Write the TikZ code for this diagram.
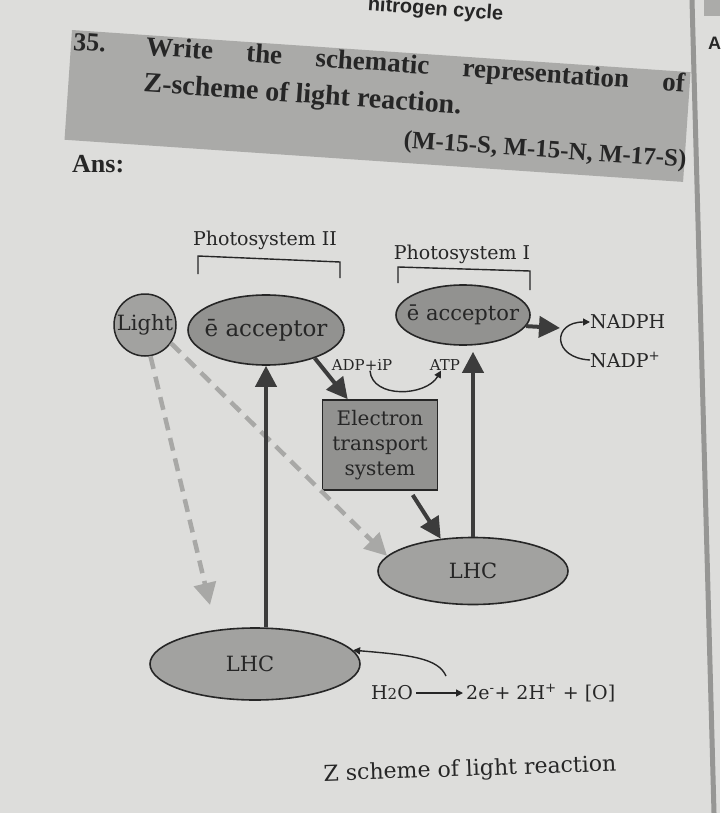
\documentclass[tikz,border=0pt]{standalone}
\usepackage{fontspec}
\setmainfont{DejaVu Serif}
\newfontfamily\bookfont{Liberation Serif}
\newfontfamily\headfont{Liberation Sans}
\usetikzlibrary{arrows.meta,shapes.geometric}

\definecolor{paper}{RGB}{221,221,219}
\definecolor{ink}{RGB}{38,38,38}
\definecolor{boxgray}{RGB}{170,170,168}
\definecolor{blobgray}{RGB}{146,146,144}
\definecolor{lhcgray}{RGB}{162,162,160}
\definecolor{dashgray}{RGB}{168,168,166}
\definecolor{rulegray}{RGB}{150,150,148}

\newcommand{\fs}[1]{\fontsize{#1}{#1}\selectfont}

\begin{document}
\begin{tikzpicture}[x=1pt,y=-1pt,
    every node/.style={text=ink,inner sep=0pt},
    blob/.style={ellipse,draw=ink,line width=1.6pt,fill=blobgray},
    bigarrow/.style={draw=ink!90,line width=4pt,-{Triangle[length=21pt,width=21pt]}},
    lightarrow/.style={draw=dashgray,line width=4.5pt,dash pattern=on 13pt off 8pt,
        -{Triangle[length=22pt,width=22pt]}},
    thinarrow/.style={draw=ink,line width=1.4pt,-{Triangle[length=7pt,width=7pt]}}]
    \useasboundingbox (0,0) rectangle (720,813);
    \clip (0,0) rectangle (720,813);
    \fill[paper] (0,0) rectangle (720,813);

    % page around the answer
    \node[anchor=base east,rotate=-4,font=\headfont\bfseries\fs{20}] (chapter) at (503,20) {nitrogen cycle};
    \fill[rulegray!80] (704,0) rectangle (720,16);
    \draw[rulegray,line width=5pt] (692,0) -- (714,813);
    \node[anchor=base west,font=\headfont\bfseries\fs{18}] (nextcol) at (708,50) {A};

    % question
    \begin{scope}[shift={(72,30)},rotate=-3.9,transform shape]
        \fill[boxgray] (0,0) rectangle (620,110);
        \node[anchor=base west,font=\bookfont\bfseries\fs{26}] (qnum) at (2,20) {35.};
        \node[anchor=base west,font=\bookfont\bfseries\fs{27}] (qline) at (75,20)
            {\makebox[540pt][s]{Write the schematic representation of}};
        \node[anchor=base west,font=\bookfont\bfseries\fs{28}] (qlinetwo) at (75,57)
            {Z-scheme of light reaction.};
        \node[anchor=base east,font=\bookfont\bfseries\fs{25}] (qref) at (622,95)
            {(M-15-S, M-15-N, M-17-S)};
    \end{scope}
    \node[anchor=base west,font=\bookfont\bfseries\fs{26}] (ans) at (72,172) {Ans:};

    % photosystems
    \node[font=\fs{19}] (pstwo) at (265,240) {Photosystem II};
    \draw[ink,line width=1.4pt] (198,274) -- (198,256) -- (340,262) -- (340,278);
    \node[font=\fs{19}] (psone) at (462,254) {Photosystem I};
    \draw[ink,line width=1.4pt] (398,283) -- (398,267) -- (530,271) -- (530,290);

    \node[circle,draw=ink,line width=1.5pt,fill=lhcgray,minimum size=62pt,font=\fs{21}] (light) at (145,325) {Light};

    \node[blob,minimum width=156pt,minimum height=70pt] (accA) at (266,330) {};
    \node[font=\fs{23}] (accAtxt) at (accA) {ē acceptor};
    \node[blob,minimum width=134pt,minimum height=60pt] (accB) at (463,315) {};
    \node[font=\fs{21}] (accBtxt) at (accB) {ē acceptor};
    \node[blob,fill=lhcgray,minimum width=190pt,minimum height=67pt] (lhcB) at (473,571) {};
    \node[font=\fs{21}] (lhcBtxt) at (lhcB) {LHC};
    \node[blob,fill=lhcgray,minimum width=210pt,minimum height=72pt] (lhcA) at (255,664) {};
    \node[font=\fs{21}] (lhcAtxt) at ([xshift=-5pt]lhcA.center) {LHC};

    \node[draw=ink,line width=1.6pt,fill=blobgray,minimum width=115pt,minimum height=90pt,
        align=center,font=\fontsize{20}{25}\selectfont] (ets) at (380,445) {Electron\\transport\\system};

    \node[font=\fs{15}] (adp) at (362,365) {ADP+iP};
    \node[font=\fs{15}] (atp) at (445,365) {ATP};
    \node[anchor=west,font=\fs{19}] (nadph) at (590,322) {NADPH};
    \node[anchor=west,font=\fs{19}] (nadpp) at (590,360) {NADP\textsuperscript{+}};

    \node[font=\fs{19}] (water) at (392,693) {H{\fs{15}2}O};
    \node[anchor=west,font=\fs{19}] (prod) at (466,693) {2e\textsuperscript{-}+ 2H\textsuperscript{+} + [O]};

    \coordinate (nadpjoin) at (560,328);
    \coordinate (lightend) at (210,605);
    \coordinate (split) at (446,676);

    % light
    \draw[lightarrow] (light.-80) -- (lightend);
    \draw[lightarrow] (light.-35) -- (lhcB.170);

    % electron flow
    \draw[bigarrow] (lhcA.north -| accA.south) -- (accA.south);
    \draw[bigarrow] (accA.-30) -- ([xshift=26pt]ets.north west);
    \draw[bigarrow,shorten <=5pt] ([xshift=30pt]ets.south) -- (lhcB.135);
    \draw[bigarrow,shorten >=6pt] (lhcB.north) -- (lhcB.north |- accB.south);
    \draw[bigarrow] (accB.-10) -- (nadpjoin);

    \draw[thinarrow] ([xshift=8pt]adp.south) .. controls +(2,28) and +(-15,26) .. ([xshift=-4pt]atp.south);
    \draw[thinarrow] (nadpp.west) .. controls (552,358) and (552,322) .. (nadph.west);
    \draw[thinarrow,shorten <=3pt,shorten >=3pt] (water.east) -- (prod.west);
    \draw[thinarrow] (split) .. controls (438,658) and (410,655) .. (lhcA.8);

    \node[rotate=2,font=\fs{22}] (caption) at (470,770) {Z scheme of light reaction};
\end{tikzpicture}
\end{document}
